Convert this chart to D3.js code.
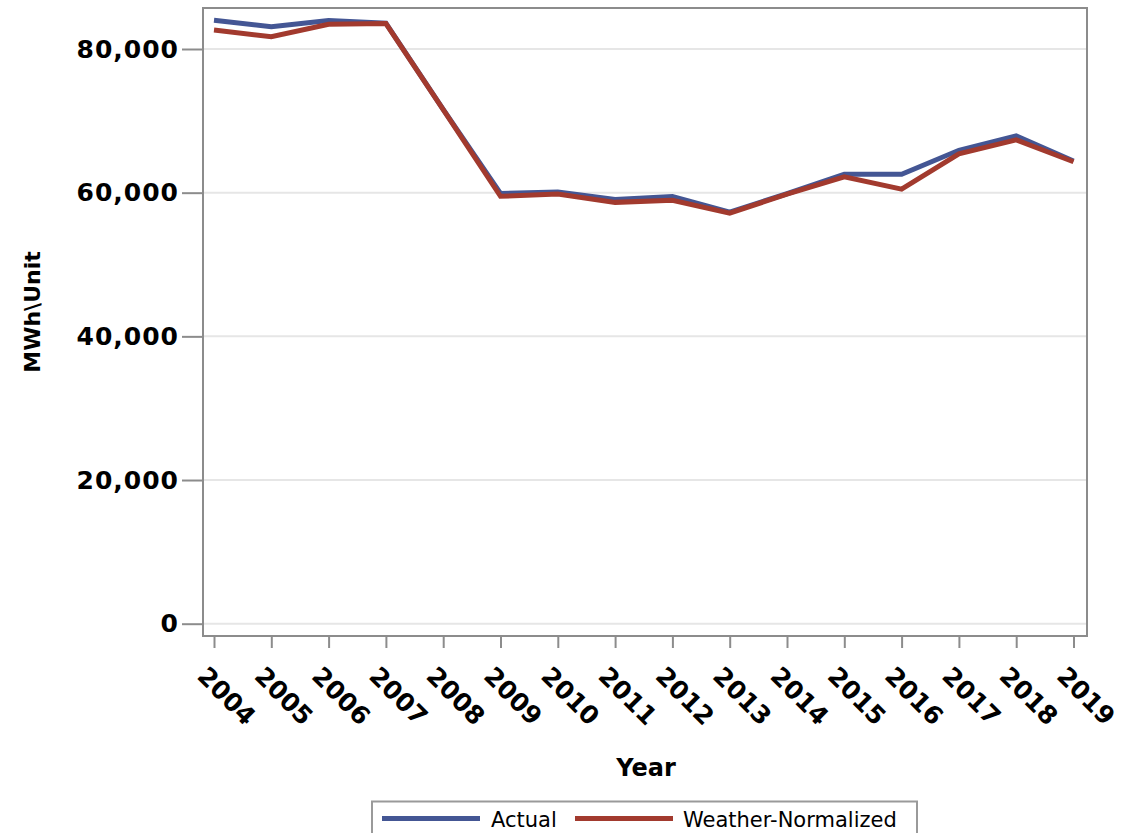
<!DOCTYPE html>
<html><head><meta charset="utf-8">
<script src="https://cdn.jsdelivr.net/npm/d3@7"></script>
<style>body{margin:0;background:#fff}svg{display:block}text{font-family:"DejaVu Sans",sans-serif}</style>
</head><body><svg id="c" width="1124" height="833"></svg>
<script>
const years = [2004,2005,2006,2007,2008,2009,2010,2011,2012,2013,2014,2015,2016,2017,2018,2019];
const actual = [84000,83100,83950,83600,71600,59900,60100,59050,59450,57300,59850,62550,62550,65900,67900,64400];
const normalized = [82650,81700,83450,83550,71550,59500,59800,58650,58950,57150,59800,62200,60500,65400,67350,64300];
const yTicks = [0,20000,40000,60000,80000];
const seriesNames = ["Actual","Weather-Normalized"];
const colors = ["#445694","#A23A2E"];

const svg = d3.select("#c");
const L=203, R=1087, T=8, B=636;
const x = d3.scalePoint().domain(years).range([214,1073.5]);
const y = d3.scaleLinear().domain([0,80000]).range([623.7,49]);

// grid
svg.append("g").selectAll("line").data(yTicks).join("line")
  .attr("x1",L).attr("x2",R).attr("y1",d=>y(d)).attr("y2",d=>y(d))
  .attr("stroke","#e6e6e6").attr("stroke-width",2);

// lines
const line = d3.line().x((d,i)=>x(years[i])).y(d=>y(d));
[actual,normalized].forEach((s,k)=>{
  svg.append("path").attr("d",line(s)).attr("fill","none")
    .attr("stroke",colors[k]).attr("stroke-width",5).attr("stroke-linejoin","miter");
});

// frame
svg.append("rect").attr("x",L).attr("y",T).attr("width",R-L).attr("height",B-T)
  .attr("fill","none").attr("stroke","#8c8c8c").attr("stroke-width",2);

// y axis
const ya = svg.append("g").attr("transform",`translate(${L},0)`)
  .call(d3.axisLeft(y).tickValues(yTicks).tickSize(21).tickPadding(3).tickFormat(d3.format(",")));
ya.select(".domain").remove();
ya.selectAll(".tick line").attr("stroke","#8c8c8c").attr("stroke-width",2);
ya.selectAll(".tick text").attr("font-size",25).attr("font-weight","bold")
  .attr("fill","#000").attr("font-family","DejaVu Sans").attr("letter-spacing",1);

// x axis
const xa = svg.append("g").attr("transform",`translate(0,${B})`)
  .call(d3.axisBottom(x).tickSize(12).tickFormat(d3.format("d")));
xa.select(".domain").remove();
xa.selectAll(".tick line").attr("stroke","#8c8c8c").attr("stroke-width",2);
xa.selectAll(".tick text").attr("font-size",25).attr("font-weight","bold")
  .attr("fill","#000").attr("font-family","DejaVu Sans")
  .attr("text-anchor","start").attr("dy",0)
  .attr("transform","translate(-8,31) rotate(45)");

// axis titles
svg.append("text").attr("x",646).attr("y",776).attr("text-anchor","middle")
  .attr("font-size",24).attr("font-weight","bold").text("Year");
svg.append("text").attr("transform","translate(40,312) rotate(-90)").attr("text-anchor","middle")
  .attr("font-size",22).attr("font-weight","bold").text("MWh\\Unit");

// legend
const lg = svg.append("g");
lg.append("rect").attr("x",372).attr("y",801.5).attr("width",545).attr("height",40)
  .attr("fill","none").attr("stroke","#9a9a9a").attr("stroke-width",2);
const items = [{x:382,tx:491},{x:575,tx:683}];
items.forEach((it,k)=>{
  lg.append("line").attr("x1",it.x).attr("x2",it.x+98).attr("y1",818.5).attr("y2",818.5)
    .attr("stroke",colors[k]).attr("stroke-width",5);
  lg.append("text").attr("x",it.tx).attr("y",827).attr("font-size",21).attr("fill","#000").text(seriesNames[k]);
});
</script></body></html>
